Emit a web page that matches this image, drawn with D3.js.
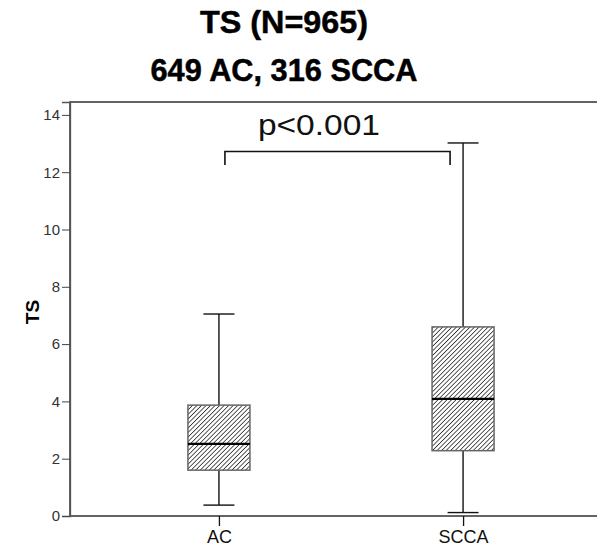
<!DOCTYPE html>
<html><head><meta charset="utf-8">
<script src="https://cdn.jsdelivr.net/npm/d3@7"></script>
<style>body{margin:0;background:#fff}svg{display:block}</style>
</head><body>
<script>
const categories = ["AC", "SCCA"];
const whiskerLow = [0.38, 0.12];
const q1 = [1.6, 2.28];
const median = [2.52, 4.09];
const q3 = [3.87, 6.6];
const whiskerHigh = [7.05, 13.02];
const yTicks = [0, 2, 4, 6, 8, 10, 12, 14];
const titleLines = ["TS (N=965)", "649 AC, 316 SCCA"];
const yLabel = "TS";
const pText = "p<0.001";
const bracketY = [12.72, 12.25];

(function () {
const W = 597, H = 551;
const svg = d3.select("body").append("svg").attr("width", W).attr("height", H);

const defs = svg.append("defs");
const pat = defs.append("pattern").attr("id", "hatch").attr("patternUnits", "userSpaceOnUse")
  .attr("width", 3.2).attr("height", 3.2).attr("patternTransform", "rotate(45)");
pat.append("rect").attr("width", 3.2).attr("height", 3.2).attr("fill", "#fff");
pat.append("line").attr("x1", 0).attr("y1", 0).attr("x2", 0).attr("y2", 3.2)
  .attr("stroke", "#222").attr("stroke-width", 1.5);

const mLeft = 70, mRight = 612, mTop = 102, mBottom = 516;
const x = d3.scalePoint().domain(categories).range([mLeft, mRight]).padding(0.61);
const y = d3.scaleLinear().domain([0, 14.45]).range([mBottom, mTop]);

// frame
svg.append("rect").attr("x", mLeft).attr("y", mTop).attr("width", mRight - mLeft).attr("height", mBottom - mTop)
  .attr("fill", "none").attr("stroke", "#111").attr("stroke-width", 1.3);

// y axis
const yAxis = svg.append("g").attr("transform", `translate(${mLeft},0)`)
  .call(d3.axisLeft(y).tickValues(yTicks).tickSize(8).tickPadding(2).tickFormat(d3.format("d")));
yAxis.select(".domain").attr("stroke", "#555").attr("stroke-width", 1.3);
yAxis.selectAll(".tick line").attr("stroke", "#444");
yAxis.selectAll(".tick text").attr("font-family", "Liberation Sans, Arial, sans-serif")
  .attr("font-size", 15).attr("fill", "#333");

// x axis
const xAxis = svg.append("g").attr("transform", `translate(0,${mBottom})`)
  .call(d3.axisBottom(x).tickSize(10).tickPadding(4));
xAxis.select(".domain").remove();
xAxis.selectAll(".tick line").attr("stroke", "#111").attr("stroke-width", 1.3);
xAxis.selectAll(".tick text").attr("font-family", "Liberation Sans, Arial, sans-serif")
  .attr("font-size", 18).attr("fill", "#111");

// boxes
const boxW = 62, capW = 31;
const g = svg.append("g");
categories.forEach((c, i) => {
  const cx = x(c);
  g.append("line").attr("x1", cx).attr("x2", cx).attr("y1", y(whiskerLow[i])).attr("y2", y(q1[i]))
    .attr("stroke", "#111").attr("stroke-width", 1.4);
  g.append("line").attr("x1", cx).attr("x2", cx).attr("y1", y(q3[i])).attr("y2", y(whiskerHigh[i]))
    .attr("stroke", "#111").attr("stroke-width", 1.4);
  g.append("line").attr("x1", cx - capW / 2).attr("x2", cx + capW / 2).attr("y1", y(whiskerLow[i])).attr("y2", y(whiskerLow[i]))
    .attr("stroke", "#111").attr("stroke-width", 1.4);
  g.append("line").attr("x1", cx - capW / 2).attr("x2", cx + capW / 2).attr("y1", y(whiskerHigh[i])).attr("y2", y(whiskerHigh[i]))
    .attr("stroke", "#111").attr("stroke-width", 1.4);
  g.append("rect").attr("x", cx - boxW / 2).attr("y", y(q3[i])).attr("width", boxW).attr("height", y(q1[i]) - y(q3[i]))
    .attr("fill", "url(#hatch)").attr("stroke", "#666").attr("stroke-width", 1.5);
  g.append("line").attr("x1", cx - boxW / 2).attr("x2", cx + boxW / 2).attr("y1", y(median[i])).attr("y2", y(median[i]))
    .attr("stroke", "#000").attr("stroke-width", 2.2);
});

// significance bracket
const bx1 = x(categories[0]) + 6, bx2 = x(categories[1]) - 13;
svg.append("path")
  .attr("d", `M${bx1},${y(bracketY[1])}V${y(bracketY[0])}H${bx2}V${y(bracketY[1])}`)
  .attr("fill", "none").attr("stroke", "#111").attr("stroke-width", 1.6);
svg.append("text").attr("x", bx1 + 33).attr("y", y(bracketY[0]) - 17)
  .attr("font-family", "Liberation Sans, Arial, sans-serif").attr("font-size", 29)
  .attr("textLength", 122).attr("lengthAdjust", "spacingAndGlyphs")
  .attr("fill", "#111").text(pText);

// title
const tl = [168, 267];
[33, 81].forEach((by, i) => {
  svg.append("text").attr("x", 284).attr("y", by).attr("text-anchor", "middle")
    .attr("font-family", "Liberation Sans, Arial, sans-serif").attr("font-weight", "bold").attr("font-size", 32)
    .attr("textLength", tl[i]).attr("lengthAdjust", "spacingAndGlyphs")
    .attr("stroke", "#000").attr("stroke-width", 0.5)
    .attr("fill", "#000").text(titleLines[i]);
});

// y label
svg.append("text").attr("transform", `translate(39,${(mTop + mBottom) / 2 + 3}) rotate(-90)`)
  .attr("text-anchor", "middle").attr("font-family", "Liberation Sans, Arial, sans-serif")
  .attr("font-weight", "bold").attr("font-size", 19).attr("fill", "#000").text(yLabel);
})();
</script>
</body></html>
